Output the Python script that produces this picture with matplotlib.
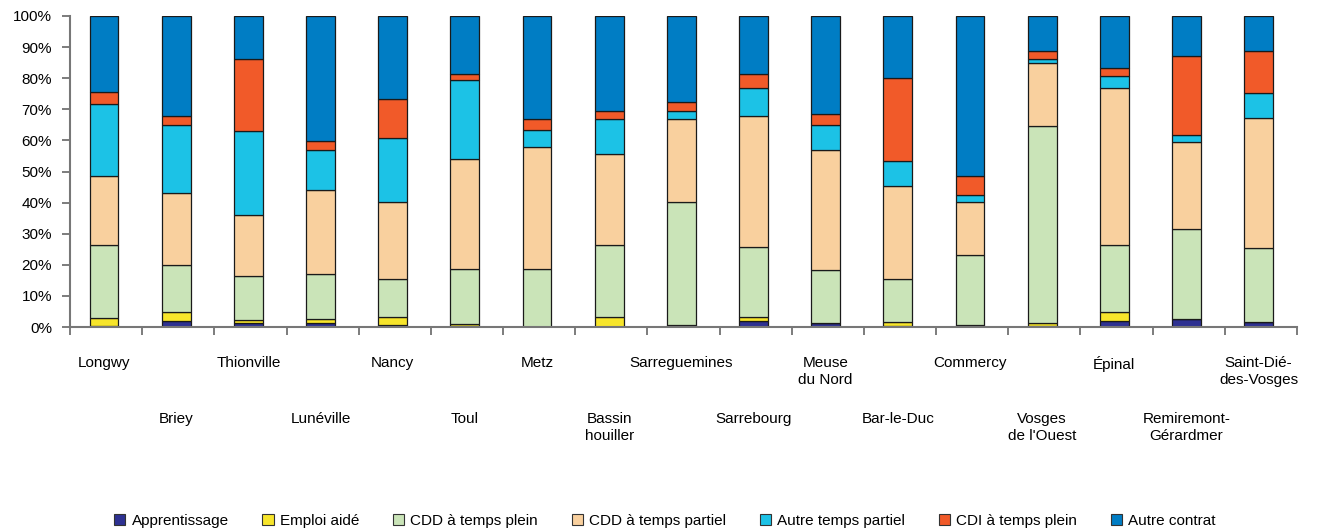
import numpy as np
import matplotlib.pyplot as plt
from matplotlib.patches import Patch

plt.rcParams['font.family'] = ['Liberation Sans', 'DejaVu Sans']

zones = ["Longwy", "Briey", "Thionville", "Lunéville", "Nancy", "Toul", "Metz",
         "Bassin\nhouiller", "Sarreguemines", "Sarrebourg", "Meuse\ndu Nord",
         "Bar-le-Duc", "Commercy", "Vosges\nde l'Ouest", "Épinal",
         "Remiremont-\nGérardmer", "Saint-Dié-\ndes-Vosges"]

series = ["Apprentissage", "Emploi aidé", "CDD à temps plein", "CDD à temps partiel",
          "Autre temps partiel", "CDI à temps plein", "Autre contrat"]

apprentissage = [0.5, 2.1, 1.2, 1.2, 0.6, 0.5, 0.0, 0.1, 0.5, 2.1, 1.2, 0.5, 0.3, 0.5, 2.1, 2.7, 1.6]
emploi_aide = [2.4, 2.9, 1.2, 1.5, 2.8, 0.6, 0.0, 3.2, 0.1, 1.3, 0.0, 1.2, 0.5, 0.7, 2.9, 0.0, 0.0]
cdd_plein = [23.6, 14.9, 14.1, 14.4, 12.1, 17.7, 18.8, 23.2, 39.7, 22.5, 17.0, 13.8, 22.4, 63.4, 21.5, 28.8, 23.9]
cdd_partiel = [22.1, 23.2, 19.4, 27.0, 24.8, 35.2, 39.1, 29.2, 26.5, 41.9, 38.6, 29.7, 17.1, 20.3, 50.2, 28.1, 41.8]
autre_partiel = [23.0, 22.0, 27.0, 12.7, 20.4, 25.4, 5.6, 11.1, 2.7, 8.9, 8.3, 8.3, 2.1, 1.1, 3.9, 2.1, 7.8]
cdi_plein = [4.0, 2.8, 23.2, 2.9, 12.7, 1.8, 3.3, 2.8, 2.8, 4.5, 3.3, 26.5, 6.2, 2.8, 2.8, 25.4, 13.7]
autre_contrat = [24.4, 32.1, 13.9, 40.3, 26.6, 18.8, 33.2, 30.4, 27.7, 18.8, 31.6, 20.0, 51.4, 11.2, 16.6, 12.9, 11.2]

colors = ["#2E3192", "#F7E52B", "#CAE4B8", "#F9D09E", "#1CC2E6", "#F15A29", "#007DC4"]

values = [apprentissage, emploi_aide, cdd_plein, cdd_partiel, autre_partiel, cdi_plein, autre_contrat]

fig = plt.figure(figsize=(13.22, 5.31), dpi=100)
ax = fig.add_axes([0.053, 0.384, 0.928, 0.586])

x = np.arange(len(zones))
bottom = np.zeros(len(zones))
for name, vals, col in zip(series, values, colors):
    vals = np.array(vals)
    ax.bar(x - 0.03, vals, width=0.4, bottom=bottom, color=col, edgecolor="#1a1a1a",
           linewidth=0.9, label=name)
    bottom += vals

ax.set_xlim(-0.5, len(zones) - 0.5)
ax.set_ylim(0, 100)
ax.set_yticks(np.arange(0, 101, 10))
ax.set_yticklabels([f"{v}%" for v in range(0, 101, 10)], fontsize=11)

# tick marks between categories, labels below in two staggered rows
ax.set_xticks(np.arange(-0.5, len(zones)), minor=True)
ax.set_xticks([])
ax.tick_params(axis="x", which="minor", length=6, width=1.2, color="#666666")
ax.tick_params(axis="y", length=6, width=1.2, color="#666666", pad=7)

for i, name in enumerate(zones):
    off = -21 if i % 2 == 0 else -61
    ax.annotate(name, xy=(i - 0.03, 0), xycoords=("data", "axes fraction"),
                xytext=(0, off), textcoords="offset points",
                ha="center", va="top", fontsize=11, multialignment="center",
                linespacing=1.25)

for side in ["top", "right"]:
    ax.spines[side].set_visible(False)
for side in ["left", "bottom"]:
    ax.spines[side].set_color("#777777")
    ax.spines[side].set_linewidth(1.5)

handles = [Patch(facecolor=c, edgecolor="#333333", linewidth=0.8) for c in colors]
fig.legend(handles, series, loc="center", bbox_to_anchor=(0.503, 0.019), ncol=7,
           frameon=False, fontsize=11, handlelength=0.75, handleheight=0.75,
           handletextpad=0.4, columnspacing=2.2)

plt.savefig("out.png", dpi=100)
